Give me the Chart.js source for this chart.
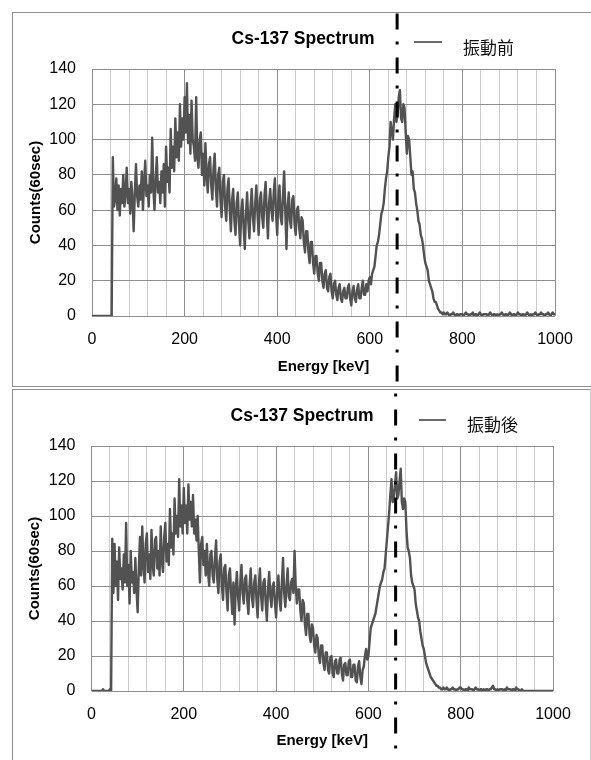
<!DOCTYPE html>
<html>
<head>
<meta charset="utf-8">
<script src="https://cdn.jsdelivr.net/npm/chart.js@4.4.1/dist/chart.umd.min.js"></script>
<style>
html,body{margin:0;padding:0;background:#fff;}
body{width:591px;height:760px;position:relative;overflow:hidden;font-family:"Liberation Sans",Arial,sans-serif;}
.panel{position:absolute;border:1px solid #8f8f8f;box-sizing:border-box;}
#p1{left:12px;top:12px;width:620px;height:375px;}
#p2{left:12px;top:389px;width:579px;height:420px;border-right-color:#d4d4d4;}
canvas{position:absolute;left:0;}
#c1{top:0;}
#c2{top:388px;}
.title{position:absolute;font-weight:bold;font-size:17.5px;color:#000;white-space:nowrap;transform:translate(-50%,-50%);}
.legline{position:absolute;height:2px;background:#6a6a6a;}
.legtext{position:absolute;font-family:"Noto Sans CJK JP",sans-serif;font-size:17px;color:#111;white-space:nowrap;transform:translateY(-50%);}
</style>
</head>
<body>
<div class="panel" id="p1"></div>
<div class="panel" id="p2"></div>
<canvas id="c1" width="591" height="388"></canvas>
<canvas id="c2" width="591" height="372"></canvas>
<div class="title" id="t1" style="left:303px;top:38px;"></div>
<div class="legline" style="left:414px;top:41px;width:28px;"></div>
<div class="legtext" id="l1" style="left:463px;top:46px;"></div>
<div class="title" id="t2" style="left:302px;top:415px;"></div>
<div class="legline" style="left:419px;top:419px;width:27px;"></div>
<div class="legtext" id="l2" style="left:467px;top:423px;"></div>
<script>
// ---- data ----
const chartTitle = 'Cs-137 Spectrum';
const xAxisTitle = 'Energy [keV]';
const yAxisTitle = 'Counts(60sec)';
const seriesNames = ['振動前', '振動後'];
const markerEnergy = 659; // keV, dash-dot marker
const xTickLabels = [0, 200, 400, 600, 800, 1000];
const yTickLabels = [0, 20, 40, 60, 80, 100, 120, 140];

const energies = [
0,2.5,5,7.5,10,12.5,15,17.5,20,22.5,25,27.5,30,32.5,35,37.5,40,42.5,45,47.5,
50,52.5,55,57.5,60,62.5,65,67.5,70,72.5,75,77.5,80,82.5,85,87.5,90,92.5,95,97.5,
100,102.5,105,107.5,110,112.5,115,117.5,120,122.5,125,127.5,130,132.5,135,137.5,140,142.5,145,147.5,
150,152.5,155,157.5,160,162.5,165,167.5,170,172.5,175,177.5,180,182.5,185,187.5,190,192.5,195,197.5,
200,202.5,205,207.5,210,212.5,215,217.5,220,222.5,225,227.5,230,232.5,235,237.5,240,242.5,245,247.5,
250,252.5,255,257.5,260,262.5,265,267.5,270,272.5,275,277.5,280,282.5,285,287.5,290,292.5,295,297.5,
300,302.5,305,307.5,310,312.5,315,317.5,320,322.5,325,327.5,330,332.5,335,337.5,340,342.5,345,347.5,
350,352.5,355,357.5,360,362.5,365,367.5,370,372.5,375,377.5,380,382.5,385,387.5,390,392.5,395,397.5,
400,402.5,405,407.5,410,412.5,415,417.5,420,422.5,425,427.5,430,432.5,435,437.5,440,442.5,445,447.5,
450,452.5,455,457.5,460,462.5,465,467.5,470,472.5,475,477.5,480,482.5,485,487.5,490,492.5,495,497.5,
500,502.5,505,507.5,510,512.5,515,517.5,520,522.5,525,527.5,530,532.5,535,537.5,540,542.5,545,547.5,
550,552.5,555,557.5,560,562.5,565,567.5,570,572.5,575,577.5,580,582.5,585,587.5,590,592.5,595,597.5,
600,602.5,605,607.5,610,612.5,615,617.5,620,622.5,625,627.5,630,632.5,635,637.5,640,642.5,645,647.5,
650,652.5,655,657.5,660,662.5,665,667.5,670,672.5,675,677.5,680,682.5,685,687.5,690,692.5,695,697.5,
700,702.5,705,707.5,710,712.5,715,717.5,720,722.5,725,727.5,730,732.5,735,737.5,740,742.5,745,747.5,
750,752.5,755,757.5,760,762.5,765,767.5,770,772.5,775,777.5,780,782.5,785,787.5,790,792.5,795,797.5,
800,802.5,805,807.5,810,812.5,815,817.5,820,822.5,825,827.5,830,832.5,835,837.5,840,842.5,845,847.5,
850,852.5,855,857.5,860,862.5,865,867.5,870,872.5,875,877.5,880,882.5,885,887.5,890,892.5,895,897.5,
900,902.5,905,907.5,910,912.5,915,917.5,920,922.5,925,927.5,930,932.5,935,937.5,940,942.5,945,947.5,
950,952.5,955,957.5,960,962.5,965,967.5,970,972.5,975,977.5,980,982.5,985,987.5,990,992.5,995,997.5,
1000];

const countsBefore = [
0,0,0,0,0,0,0,0,0,0,0,0,0,0,0,0,0,0,90,62,
66,78,60,74,57,72,64,80,62,70,84,64,72,58,76,66,48,70,86,68,
62,74,66,82,60,76,88,68,74,62,80,70,101,72,60,78,90,70,76,64,
82,70,86,62,96,76,84,70,106,84,96,82,112,90,104,88,120,96,112,100,
124,104,132,98,114,92,122,100,96,88,124,90,84,100,104,80,92,74,98,80,
70,86,90,74,66,84,92,72,62,80,84,66,56,76,80,62,54,72,78,60,
48,66,72,54,46,64,70,52,40,60,66,50,38,58,70,54,44,62,72,56,
48,64,74,58,46,66,70,56,50,68,76,58,44,64,72,60,54,70,78,58,
46,66,74,56,52,68,82,60,38,62,70,54,50,66,68,52,46,60,62,50,
44,56,54,42,36,48,48,36,30,42,42,30,24,34,34,24,20,30,30,20,
16,24,26,16,14,22,24,14,10,18,20,12,9,16,18,10,8,14,16,10,
10,16,18,10,6,14,17,10,8,15,18,10,10,16,20,12,12,18,14,20,
22,18,24,26,28,34,40,42,46,52,58,60,64,72,78,82,90,96,110,104,
100,112,120,110,114,124,128,112,110,120,118,104,92,102,100,90,80,82,72,70,
64,60,54,52,46,44,40,34,30,28,26,20,18,16,14,10,8,8,6,4,
3,2,2,1,2,1,1,2,1,0,1,1,2,1,0,1,1,0,1,1,
1,0,1,2,1,1,0,1,1,2,0,1,1,0,1,2,1,0,1,1,
1,1,0,1,2,1,0,1,1,0,1,0,1,1,2,1,0,1,1,0,
1,2,1,0,1,1,0,1,2,1,1,0,1,1,0,1,2,1,0,1,
0,1,1,2,1,0,1,1,2,1,1,0,1,1,2,1,0,1,2,1,
1];

const countsAfter = [
0,0,0,0,0,0,0,0,0,0,1,0,0,0,0,0,1,0,87,56,
84,60,74,52,82,64,70,58,78,62,96,60,72,50,80,62,68,56,76,58,
45,70,88,66,94,72,62,84,90,68,78,64,92,72,66,86,88,70,80,66,
94,74,68,88,96,74,84,72,104,82,90,78,110,90,100,88,121,94,106,90,
116,96,106,90,118,98,108,94,112,90,98,86,100,80,62,84,88,72,80,66,
84,68,60,78,80,66,62,76,86,64,56,74,78,60,52,70,72,56,46,66,
70,56,44,62,38,58,68,54,46,62,72,56,50,64,66,52,44,60,70,54,
48,62,66,52,42,60,70,54,46,62,64,50,40,58,68,54,48,60,62,50,
42,58,66,52,46,62,76,56,48,60,70,54,52,62,64,56,80,60,50,58,
58,46,40,52,50,38,32,44,44,32,28,38,36,26,22,32,30,20,16,26,
26,16,12,22,22,12,10,19,20,10,8,17,18,10,10,18,19,10,6,15,
16,9,9,17,18,8,8,15,15,6,5,14,17,8,4,12,14,20,24,18,
20,28,36,38,40,42,44,48,52,56,60,62,64,68,70,78,86,94,102,112,
121,108,110,118,125,110,112,120,127,108,104,110,108,92,82,80,76,66,62,60,
58,50,46,42,40,34,30,26,24,20,16,14,12,10,8,7,6,5,4,3,
3,2,2,1,1,2,1,1,2,1,0,1,1,2,1,1,0,1,1,2,
2,1,1,0,1,1,0,2,1,1,1,0,1,2,1,1,0,1,1,0,
1,0,1,1,0,1,1,2,3,1,1,0,1,0,1,1,1,0,1,0,
2,1,1,1,0,1,1,0,2,1,1,0,0,1,0,0,0,0,0,0,
0,0,0,0,0,0,0,0,0,0,0,0,0,0,0,0,0,0,0,0,
0];

// ---- text ----
document.getElementById('t1').textContent = chartTitle;
document.getElementById('t2').textContent = chartTitle;
document.getElementById('l1').textContent = seriesNames[0];
document.getElementById('l2').textContent = seriesNames[1];

const tickFont = {family:'Liberation Sans', size:16};
const titleFont = {family:'Liberation Sans', size:15, weight:'bold'};

function markerPlugin(y0, dashOffset){
  return {
    id:'marker',
    afterDatasetsDraw(chart){
      const x = chart.scales.x.getPixelForValue(markerEnergy);
      const c = chart.ctx;
      c.save();
      c.strokeStyle = '#000';
      c.lineWidth = 3;
      c.lineCap = 'butt';
      c.setLineDash([16,12,3,13]);
      c.lineDashOffset = dashOffset;
      c.beginPath();
      c.moveTo(x, y0);
      c.lineTo(x, chart.height);
      c.stroke();
      c.restore();
    }
  };
}

function makeChart(id, name, values, g){
  return new Chart(document.getElementById(id), {
    type:'line',
    data:{datasets:[{
      label:name,
      data: energies.map((e,i)=>({x:e, y:values[i]})),
      borderColor:'#525252',
      borderWidth:2.4,
      borderJoinStyle:'round',
      pointRadius:0,
      tension:0,
      fill:false
    }]},
    options:{
      responsive:false,
      animation:false,
      events:[],
      layout:{padding:{left:0, top:g.top, right:g.right, bottom:0}},
      plugins:{legend:{display:false}, title:{display:false}, tooltip:{enabled:false}},
      scales:{
        x:{
          type:'linear', min:0, max:1000,
          afterFit:s=>{s.height = g.xh;},
          ticks:{stepSize:40, autoSkip:false, maxRotation:0, padding:g.xtp, color:'#000', font:tickFont,
                 callback:v=> xTickLabels.includes(v) ? String(v) : ''},
          grid:{color:c=> (c.tick && xTickLabels.includes(c.tick.value)) ? '#8e8e8e' : '#cdcdcd', lineWidth:1, drawTicks:false},
          border:{display:false},
          title:{display:true, text:xAxisTitle, color:'#000', font:titleFont, padding:{top:0, bottom:g.xtitle}}
        },
        y:{
          min:0, max:140,
          afterFit:s=>{s.width = g.yw;},
          ticks:{stepSize:20, padding:16, color:'#000', font:tickFont,
                 callback:v=> yTickLabels.includes(v) ? String(v) : ''},
          grid:{color:'#8e8e8e', lineWidth:1, drawTicks:false},
          border:{display:false},
          title:{display:true, text:yAxisTitle, color:'#000', font:titleFont, padding:{top:g.ytitle, bottom:0}}
        }
      }
    },
    plugins:[markerPlugin(g.lineTop, g.dashOffset)]
  });
}

makeChart('c1', seriesNames[0], countsBefore, {top:69, right:36, xh:72, yw:92, xtp:14, xtitle:12, ytitle:27, lineTop:12.5, dashOffset:43});
makeChart('c2', seriesNames[1], countsAfter, {top:58, right:38, xh:69, yw:91.5, xtp:14, xtitle:10, ytitle:26, lineTop:0, dashOffset:22.5});
</script>
</body>
</html>
